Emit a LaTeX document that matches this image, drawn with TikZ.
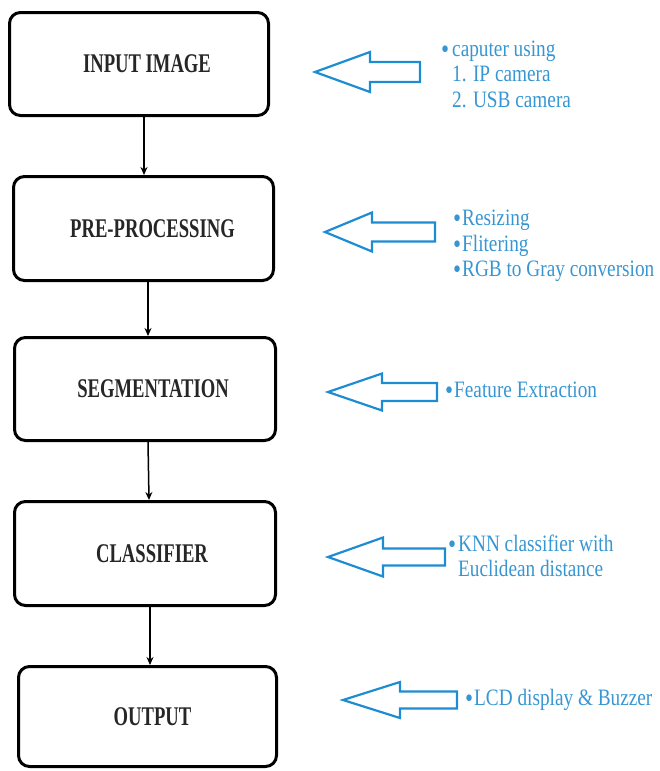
\documentclass[tikz,border=0pt]{standalone}
\usepackage{fontspec}
\setmainfont{Liberation Serif}
\newfontfamily\boxfont[FakeStretch=0.69]{Liberation Serif}
\newfontfamily\notefont[FakeStretch=0.82]{Liberation Serif}
\usetikzlibrary{arrows.meta}
\definecolor{arrowblue}{RGB}{30,140,210}
\definecolor{noteblue}{RGB}{55,150,210}
\newcommand{\bul}[1]{\llap{\smash{\raisebox{-2pt}{\fontsize{28}{25}\selectfont\textbullet}}\hspace{#1}}}
\begin{document}
\begin{tikzpicture}[x=1pt,y=-1pt,
  stage/.style={draw=black, line width=3pt, rounded corners=11pt,
    inner sep=0pt, text=black!85,
    font=\boxfont\bfseries\fontsize{27}{27}\selectfont},
  flow/.style={-{Stealth[length=8pt,width=7pt]}, line width=1.5pt},
  blockarrow/.style={draw=arrowblue, line width=2.2pt, line join=miter},
  note/.style={text=noteblue, font=\notefont\fontsize{23.5}{25.5}\selectfont,
    align=left, anchor=west, inner sep=0pt}]
\useasboundingbox (0,0) rectangle (660,771);

% stages
\node[stage, minimum width=259pt, minimum height=103pt] (b1) at (139,64) {\hspace*{16pt}INPUT IMAGE};
\node[stage, minimum width=260pt, minimum height=104pt] (b2) at (143.5,228.5) {\hspace*{18pt}PRE-PROCESSING};
\node[stage, minimum width=261pt, minimum height=103pt] (b3) at (145,389) {\hspace*{16pt}SEGMENTATION};
\node[stage, minimum width=261pt, minimum height=104pt] (b4) at (145,553.5) {\hspace*{14pt}CLASSIFIER};
\node[stage, minimum width=258pt, minimum height=100pt] (b5) at (147.5,716.5) {\hspace*{10pt}OUTPUT};

% flow arrows
\draw[flow] ([xshift=5pt]b1.south) -- ([xshift=0.5pt]b2.north);
\draw[flow] ([xshift=4.5pt]b2.south) -- ([xshift=3pt]b3.north);
\draw[flow] ([xshift=3pt]b3.south) -- ([xshift=4pt]b4.north);
\draw[flow] ([xshift=5pt]b4.south) -- ([xshift=2.5pt]b5.north);

% block arrows: tip x, tip y, head base x, tail x, head half, shaft half
\foreach \tx/\ty/\bx/\ex/\hh/\sh in {315/72/370/420/20/10,
                                     325/232/372/435/19.5/9.5,
                                     328/392/382/437/18.5/9,
                                     328/557/383/445/19.5/8.5,
                                     343/700/400/457/18/8.5}{
  \draw[blockarrow] (\tx,\ty) -- (\bx,\ty-\hh) -- (\bx,\ty-\sh) -- (\ex,\ty-\sh)
     -- (\ex,\ty+\sh) -- (\bx,\ty+\sh) -- (\bx,\ty+\hh) -- cycle;
}

% notes
\node[note] (n1) at (452,74) {\bul{3pt}caputer using\\1. IP camera\\2. USB camera};
\node[note] (n2) at (462,246) {\bul{1pt}Resizing\\\bul{1pt}Flitering\\\bul{1pt}RGB to Gray conversion};
\node[note] (n3) at (454,390) {\bul{1pt}Feature Extraction};
\node[note] (n4) at (458,556) {\bul{2pt}KNN classifier with\\Euclidean distance};
\node[note] (n5) at (474,700) {\bul{1pt}LCD display \& Buzzer};
\end{tikzpicture}
\end{document}
